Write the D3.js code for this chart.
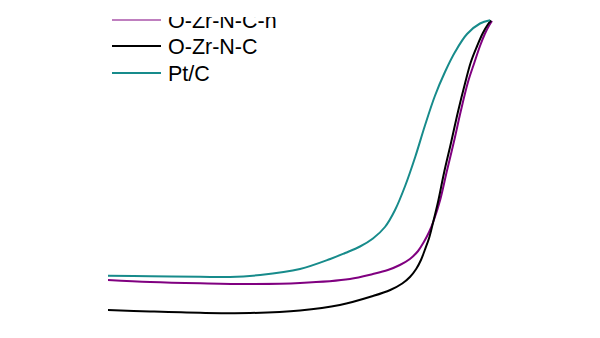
<!DOCTYPE html>
<html>
<head>
<meta charset="utf-8">
<script src="https://cdn.jsdelivr.net/npm/d3@7"></script>
<style>
  html, body { margin: 0; padding: 0; background: #fff; }
  svg { display: block; }
</style>
</head>
<body>
<div id="chart"></div>
<script>
// Potential (V vs RHE) and current density (mA cm^-2) for each catalyst
const potentialPtC = [0.200, 0.288, 0.392, 0.454, 0.517, 0.600, 0.663, 0.694, 0.725, 0.752, 0.777, 0.798, 0.819, 0.840, 0.860, 0.881, 0.902, 0.923, 0.948, 0.975, 0.996];
const currentPtC   = [-5.114, -5.124, -5.136, -5.140, -5.100, -4.980, -4.780, -4.660, -4.530, -4.370, -4.140, -3.800, -3.320, -2.740, -2.120, -1.520, -1.040, -0.640, -0.280, -0.070, -0.006];

const potentialZrN = [0.200, 0.288, 0.392, 0.496, 0.600, 0.704, 0.752, 0.783, 0.808, 0.829, 0.846, 0.858, 0.869, 0.879, 0.892, 0.906, 0.921, 0.935, 0.950, 0.963, 0.975, 0.985, 0.994, 1.000];
const currentZrN   = [-5.200, -5.240, -5.266, -5.280, -5.260, -5.180, -5.080, -5.000, -4.900, -4.780, -4.620, -4.440, -4.240, -4.000, -3.600, -3.020, -2.420, -1.820, -1.240, -0.860, -0.520, -0.280, -0.110, -0.020];

const potentialZr  = [0.200, 0.288, 0.392, 0.496, 0.600, 0.683, 0.752, 0.788, 0.813, 0.829, 0.842, 0.852, 0.860, 0.869, 0.877, 0.888, 0.900, 0.915, 0.929, 0.944, 0.956, 0.969, 0.981, 0.992, 0.998];
const currentZr    = [-5.800, -5.830, -5.856, -5.860, -5.810, -5.700, -5.520, -5.400, -5.270, -5.140, -4.980, -4.800, -4.600, -4.360, -4.060, -3.620, -3.060, -2.440, -1.840, -1.260, -0.840, -0.520, -0.260, -0.080, -0.010];

const seriesNames  = ["O-Zr-N-C-n", "O-Zr-N-C", "Pt/C"];
const seriesColors = ["#800080", "#000000", "#178b8b"];

const width = 600, height = 338;

const svg = d3.select("#chart").append("svg")
  .attr("width", width)
  .attr("height", height);

const x = d3.scaleLinear().domain([0.2, 1.0]).range([108, 492]);
const y = d3.scaleLinear().domain([0, -6]).range([20, 320]);

const zip = (xs, ys) => xs.map((v, i) => ({ v, j: ys[i] }));
const series = [
  { name: seriesNames[0], color: seriesColors[0], pts: zip(potentialZrN, currentZrN) },
  { name: seriesNames[1], color: seriesColors[1], pts: zip(potentialZr, currentZr) },
  { name: seriesNames[2], color: seriesColors[2], pts: zip(potentialPtC, currentPtC) }
];

const line = d3.line()
  .x(d => x(d.v))
  .y(d => y(d.j))
  .curve(d3.curveCatmullRom.alpha(0.5));

svg.append("g").selectAll("path")
  .data(series)
  .join("path")
  .attr("d", d => line(d.pts))
  .attr("fill", "none")
  .attr("stroke", d => d.color)
  .attr("stroke-width", 2)
  .attr("stroke-linejoin", "round");

// Legend (top row cut off by the panel edge)
const defs = svg.append("defs");
defs.append("clipPath").attr("id", "legendClip")
  .append("rect").attr("x", 0).attr("y", 17).attr("width", width).attr("height", height);
defs.append("clipPath").attr("id", "legendLineClip")
  .append("rect").attr("x", 0).attr("y", 19.5).attr("width", width).attr("height", height);

const legend = svg.append("g");
const rowY = [19.5, 46, 73];
series.forEach((s, i) => {
  legend.append("line")
    .attr("clip-path", "url(#legendLineClip)")
    .attr("x1", 112).attr("x2", 161)
    .attr("y1", rowY[i]).attr("y2", rowY[i])
    .attr("stroke", s.color)
    .attr("stroke-width", 2);
  legend.append("text")
    .attr("clip-path", "url(#legendClip)")
    .attr("x", 168)
    .attr("y", Math.round(rowY[i]) + 8)
    .attr("font-family", "Liberation Sans, Arial, sans-serif")
    .attr("font-size", 21.5)
    .attr("fill", "#000")
    .text(s.name);
});
</script>
</body>
</html>
